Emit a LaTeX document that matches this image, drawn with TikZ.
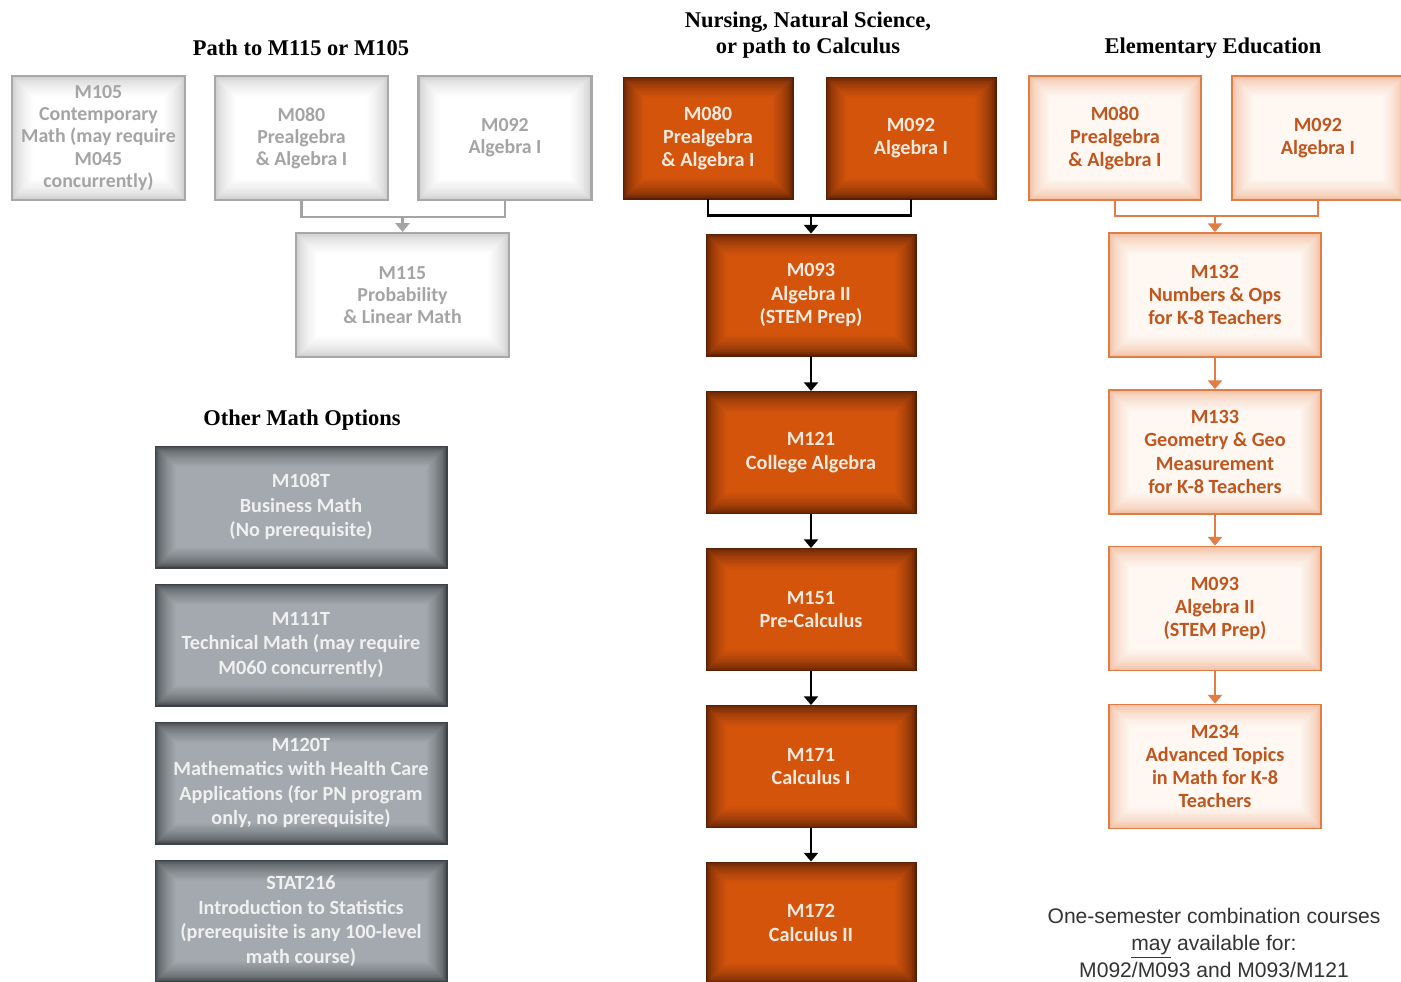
\documentclass[tikz,border=0pt]{standalone}
\usepackage{fontspec}
\usepackage{xcolor}
\usetikzlibrary{arrows.meta}
\newfontfamily\boxfont{Carlito}
\newfontfamily\headfont{Liberation Serif}
\newfontfamily\notefont{Liberation Sans}

\definecolor{orfill}{HTML}{D4540C}
\definecolor{ordark}{HTML}{5A2005}
\definecolor{ortext}{HTML}{FBE9DD}
\definecolor{pefill}{HTML}{FEF7F2}
\definecolor{pedark}{HTML}{F0B898}
\definecolor{peline}{HTML}{E27C45}
\definecolor{petext}{HTML}{C0561E}
\definecolor{ltfill}{HTML}{FFFFFF}
\definecolor{ltdark}{HTML}{C8C8C8}
\definecolor{ltline}{HTML}{A8A8A8}
\definecolor{lttext}{HTML}{A4A4A4}
\definecolor{grfill}{HTML}{A3A9AE}
\definecolor{grdark}{HTML}{3E4246}
\definecolor{grtext}{HTML}{F0F0F0}

\begin{document}
\begin{tikzpicture}
  [x=0.02cm,y=-0.02cm,
   glow/.style 2 args={fill=#2,path picture={
     \foreach \k in {1,...,24}{
       \pgfmathtruncatemacro\mix{100*(\k/24)^0.55}
       \fill[#1!\mix!#2]
         ([shift={(\k*0.5pt,-\k*0.5pt)}]path picture bounding box.north west) rectangle
         ([shift={(-\k*0.5pt,\k*0.5pt)}]path picture bounding box.south east);
     }}},
   box/.style={rectangle,align=center,inner sep=2pt,
     font=\boxfont\fontsize{11.5}{13.2}\selectfont\bfseries},
   ltbox/.style={box,glow={ltfill}{ltdark},draw=ltline,line width=1.2pt,text=lttext,
     minimum width=3.46cm,minimum height=2.48cm,
     font=\boxfont\fontsize{11.3}{12.6}\selectfont\bfseries},
   orbox/.style={box,glow={orfill}{ordark},draw=ordark,line width=0.5pt,text=ortext,
     minimum width=3.4cm,minimum height=2.44cm},
   pebox/.style={box,glow={pefill}{pedark},draw=peline,line width=1pt,text=petext,
     minimum width=3.44cm,minimum height=2.48cm},
   grbox/.style={box,glow={grfill}{grdark},draw=grdark,line width=0.4pt,text=grtext,
     minimum width=5.84cm,minimum height=2.44cm,
     font=\boxfont\fontsize{11.5}{14}\selectfont\bfseries},
   head/.style={align=center,font=\headfont\fontsize{12.8}{15}\selectfont\bfseries},
   ltlink/.style={draw=lttext,line width=1.4pt},
   orlink/.style={draw=black,line width=1.7pt},
   pelink/.style={draw=peline,line width=1.4pt},
   tip/.style={-{Triangle[length=5pt,width=8pt]}}]
  \useasboundingbox (0,0) rectangle (1401,982);
  \clip (0,0) rectangle (1401,982);

  % headings
  \node[head] (h1) at (301,48) {Path to M115 or M105};
  \node[head] (h2) at (808,35) {Nursing, Natural Science,\\or path to Calculus};
  \node[head] (h3) at (1213,48) {Elementary Education};
  \node[head] (h4) at (302,420) {Other Math Options};

  % path to M115 or M105
  \node[ltbox] (p105) at (98.5,138) {M105\\Contemporary\\Math (may require\\M045\\concurrently)};
  \node[ltbox] (p080) at (301.5,138) {M080\\Prealgebra\\\& Algebra I};
  \node[ltbox] (p092) at (505,138) {M092\\Algebra I};
  \node[ltbox,minimum width=4.26cm] (p115) at (402.5,295) {M115\\Probability\\\& Linear Math};
  \coordinate (pj) at (402.5,217);
  \draw[ltlink] (p080.south) |- (pj) -| (p092.south);
  \draw[ltlink,tip] (pj) -- (p115.north);

  % nursing, natural science, calculus
  \node[orbox] (n080) at (708,138) {M080\\Prealgebra\\\& Algebra I};
  \node[orbox] (n092) at (911,138) {M092\\Algebra I};
  \node[orbox,minimum width=4.2cm] (n093) at (811,295) {M093\\Algebra II\\(STEM Prep)};
  \node[orbox,minimum width=4.2cm] (n121) at (811,452.5) {M121\\College Algebra};
  \node[orbox,minimum width=4.2cm] (n151) at (811,609.5) {M151\\Pre-Calculus};
  \node[orbox,minimum width=4.2cm] (n171) at (811,766.5) {M171\\Calculus I};
  \node[orbox,minimum width=4.2cm] (n172) at (811,923) {M172\\Calculus II};
  \coordinate (nj) at (811,216);
  \draw[orlink] (n080.south) |- (nj) -| (n092.south);
  \draw[orlink,tip] (nj) -- (n093.north);
  \foreach \from/\to in {n093/n121,n121/n151,n151/n171,n171/n172}
    \draw[orlink,tip] (\from) -- (\to);

  % elementary education
  \node[pebox] (e080) at (1115,138) {M080\\Prealgebra\\\& Algebra I};
  \node[pebox] (e092) at (1318,138) {M092\\Algebra I};
  \node[pebox,minimum width=4.24cm] (e132) at (1215,295) {M132\\Numbers \& Ops\\for K-8 Teachers};
  \node[pebox,minimum width=4.24cm] (e133) at (1215,452) {M133\\Geometry \& Geo\\Measurement\\for K-8 Teachers};
  \node[pebox,minimum width=4.24cm] (e093) at (1215,608.5) {M093\\Algebra II\\(STEM Prep)};
  \node[pebox,minimum width=4.24cm] (e234) at (1215,766.5) {M234\\Advanced Topics\\in Math for K-8\\Teachers};
  \coordinate (ej) at (1215,216);
  \draw[pelink] (e080.south) |- (ej) -| (e092.south);
  \draw[pelink,tip] (ej) -- (e132.north);
  \foreach \from/\to in {e132/e133,e133/e093,e093/e234}
    \draw[pelink,tip] (\from) -- (\to);

  % other math options
  \node[grbox] (o108) at (301,507) {M108T\\Business Math\\(No prerequisite)};
  \node[grbox] (o111) at (301,645) {M111T\\Technical Math (may require\\M060 concurrently)};
  \node[grbox] (o120) at (301,783) {M120T\\Mathematics with Health Care\\Applications (for PN program\\only, no prerequisite)};
  \node[grbox] (o216) at (301,921) {STAT216\\Introduction to Statistics\\(prerequisite is any 100-level\\math course)};

  % note
  \node[align=center,font=\notefont\fontsize{12}{15.3}\selectfont,text=black!80] (note) at (1214,943)
    {One-semester combination courses\\\underline{may} available for:\\M092/M093 and M093/M121};
\end{tikzpicture}
\end{document}
